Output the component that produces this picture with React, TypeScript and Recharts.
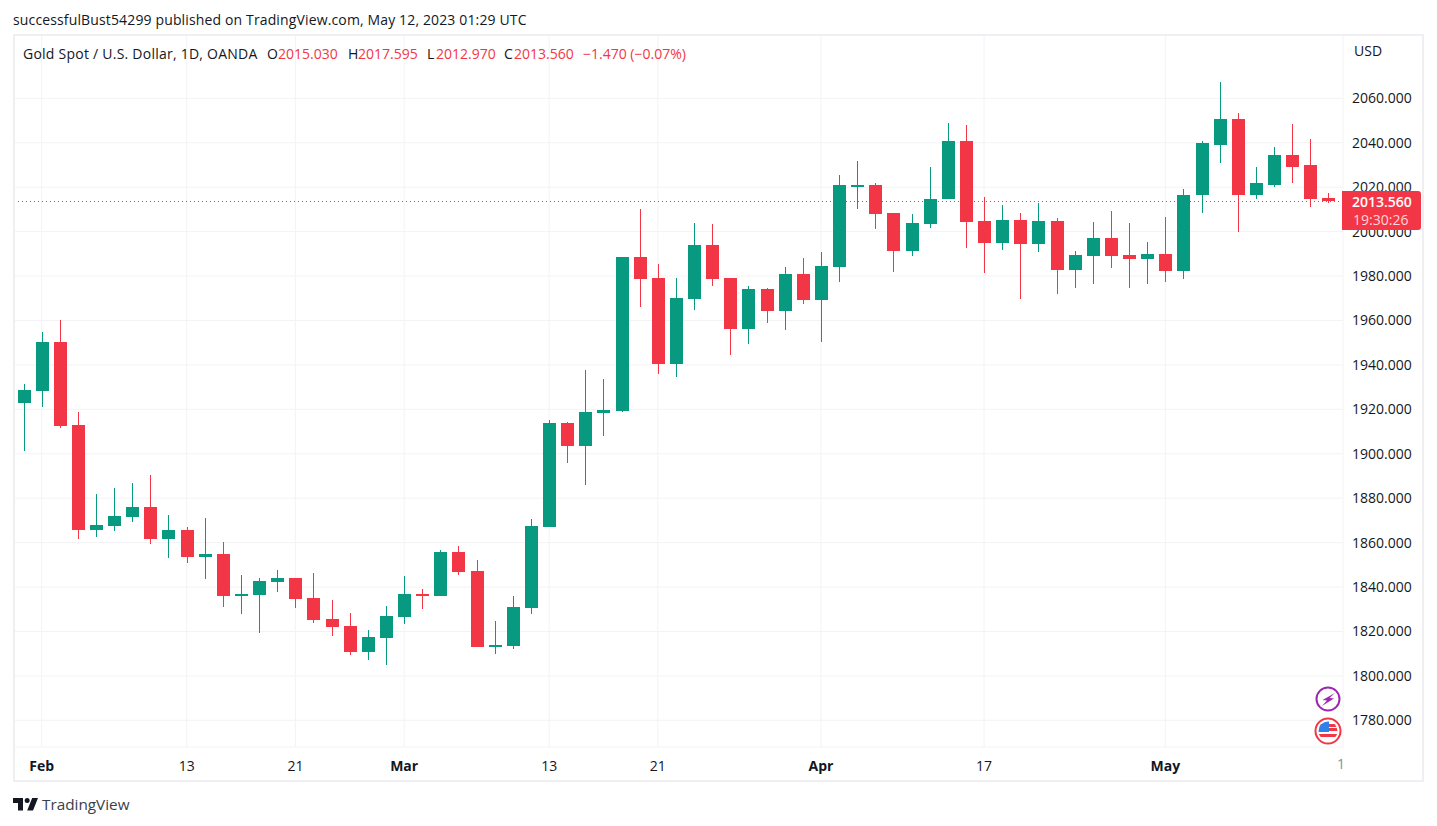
import React from "react";
import { ComposedChart, Bar, XAxis, YAxis, CartesianGrid, ReferenceLine } from "recharts";

const dates = [
  "01-31","02-01","02-02","02-03","02-06","02-07","02-08","02-09","02-10","02-13","02-14","02-15","02-16","02-17","02-20","02-21",
  "02-22","02-23","02-24","02-27","02-28","03-01","03-02","03-03","03-06","03-07","03-08","03-09","03-10","03-13","03-14","03-15",
  "03-16","03-17","03-20","03-21","03-22","03-23","03-24","03-27","03-28","03-29","03-30","03-31","04-03","04-04","04-05","04-06",
  "04-10","04-11","04-12","04-13","04-14","04-17","04-18","04-19","04-20","04-21","04-24","04-25","04-26","04-27","04-28","05-01",
  "05-02","05-03","05-04","05-05","05-08","05-09","05-10","05-11","05-12",
];
const opens = [
  1922.8,1928.2,1950.2,1912.9,1865.6,1867.4,1871.5,1876,1861.6,1865.6,1853.5,1854.8,1835.9,1836.4,1842.2,1844,1835,1825.6,1822.4,
  1810.8,1817.1,1826.5,1836.9,1836,1855.8,1847.2,1813,1813.5,1830.6,1867,1913.8,1903.5,1918.4,1919.3,1988.4,1978.9,1940.2,1969.5,
  1993.8,1978.9,1956,1974,1964.1,1980.7,1969,1983.9,2020.3,2020.8,2008.2,1991.1,2003.2,2014.5,2040.6,2004.6,1994.7,2005,1994.2,
  2004.6,1982.5,1988.8,1996.9,1989.3,1987.5,1989.7,1982.1,2016.3,2039.2,2050.5,2016.3,2021.2,2034.7,2029.8,2015.03,
];
const closes = [
  1928.6,1950.2,1912.4,1865.6,1867.9,1871.9,1876,1861.6,1865.6,1853.5,1854.8,1835.9,1836.8,1842.7,1844,1834.5,1825.1,1822,1810.7,
  1817.5,1827,1836.8,1836,1855.8,1846.8,1813,1813.9,1831,1867.5,1913.8,1903.5,1918.8,1919.7,1988.4,1978.5,1940.2,1969.9,1993.8,
  1978.5,1956,1974,1964.1,1980.7,1969,1984.3,2020.8,2020.8,2007.7,1991.1,2003.7,2014.9,2040.6,2004.1,1994.7,2005,1994.2,2004.6,
  1982.5,1989.3,1996.9,1988.8,1987.5,1989.7,1982.1,2016.7,2039.7,2050.5,2016.3,2021.7,2034.7,2029.3,2014.5,2013.56,
];
const highs = [
  1931.3,1954.7,1960.1,1918.7,1881.8,1884.5,1886.8,1890.4,1872.4,1867,1871,1860.2,1845.4,1844,1847.6,1844,1846.3,1834.1,1828.2,
  1820.7,1831.5,1844.9,1839.1,1856.7,1858.5,1852.2,1824.7,1836,1870.6,1915.2,1914.3,1937.7,1933.6,1988.6,2010,1985.2,1978.9,2003.7,
  2003.2,1978.9,1975.3,1974.4,1984.2,1987.9,1990.6,2025.3,2032,2021.7,2008.2,2007.7,2028.9,2048.7,2047.8,2015.4,2011.8,2008.2,2012.7,
  2005.9,1991.1,2004.1,2009.5,2003.7,1995.1,2006.4,2019.4,2040.6,2067.2,2053.2,2029.3,2037.9,2048.3,2041.5,2017.595,
];
const lows = [
  1901.2,1921,1911.5,1861.6,1862.5,1865.2,1869.2,1859.3,1853,1850.8,1843.6,1830.9,1827.8,1819.2,1837.7,1830.5,1823.7,1817.9,1809.3,
  1807.2,1804.9,1823.4,1830.1,1836,1845.4,1813,1809.9,1812.1,1827.9,1867,1895.8,1885.9,1908,1918.8,1965.9,1935.7,1934.4,1964.5,
  1975.3,1944.3,1949.2,1958.7,1955.5,1967.2,1950.1,1977.1,2010,2001,1981.6,1988.8,2001.4,2014.5,1992.4,1981.2,1991.5,1969.5,1990.6,
  1971.7,1974.4,1976.2,1983.4,1974.4,1976.2,1977.1,1978.5,2008.2,2030.7,1999.6,2014.5,2019.9,2021.7,2011.3,2012.97,
];
const priceTicks = [1780,1800,1820,1840,1860,1880,1900,1920,1940,1960,1980,2000,2020,2040,2060];
const timeTicks = ["02-01","02-13","02-21","03-01","03-13","03-21","04-03","04-17","05-01"];
const timeLabels = ["Feb","13","21","Mar","13","21","Apr","17","May"];
const lastPrice = 2013.56;

const GREEN = "#089981";
const RED = "#f23645";
const FONT = "'Open Sans', 'Liberation Sans', sans-serif";

const rows = dates.map((date, i) => ({ date, open: opens[i], close: closes[i], high: highs[i], low: lows[i] }));

function Candle(props: any) {
  const { x, y, width, height, payload } = props;
  const { open, close, high, low } = payload;
  const perUnit = height / (high - low);
  const color = close >= open ? GREEN : RED;
  const top = Math.round(y + (high - Math.max(open, close)) * perUnit);
  const bottom = Math.round(y + (high - Math.min(open, close)) * perUnit);
  const cx = Math.floor(x + width / 2);
  return (
    <g shapeRendering="crispEdges">
      <rect x={cx} y={y} width={1} height={height} fill={color} />
      <rect x={cx - 6} y={top} width={13} height={Math.max(1, bottom - top)} fill={color} />
    </g>
  );
}

function TimeTick(props: any) {
  const { x, y, payload } = props;
  const i = timeTicks.indexOf(payload.value);
  const label = timeLabels[i];
  const month = isNaN(Number(label));
  return (
    <text x={x} y={y + 1} textAnchor="middle" dominantBaseline="central" fontFamily={FONT} fontSize={14}
      fontWeight={month ? 700 : 400} fill="#131722">{label}</text>
  );
}

const abs = (left: number, top: number, extra: React.CSSProperties = {}): React.CSSProperties => ({
  position: "absolute", left, top, whiteSpace: "nowrap", fontFamily: FONT, fontSize: 14, lineHeight: "18px", color: "#131722", ...extra,
});

export default function App() {
  return (
    <div style={{ position: "absolute", left: 0, top: 0, width: 1437, height: 826, background: "#fff", overflow: "hidden" }}>
      <ComposedChart width={1437} height={826} data={rows} barSize={13}
        margin={{ top: 35, right: 14, bottom: 45, left: 14 }} style={{ position: "absolute", left: 0, top: 0 }}>
        <CartesianGrid stroke="#f3f3f6" strokeWidth={1} />
        <XAxis dataKey="date" ticks={timeTicks} interval={0} height={34} tickLine={false} axisLine={false}
          padding={{ left: 0.5, right: 5.5 }} tick={<TimeTick />} tickMargin={11} />
        <YAxis orientation="right" width={80} domain={[1768, 2088.5]} ticks={priceTicks} tickLine={false} axisLine={false}
          tickMargin={3} tickFormatter={(v: number) => v.toFixed(3)} allowDataOverflow
          tick={{ fontFamily: FONT, fontSize: 14, fill: "#131722" }} />
        <ReferenceLine y={lastPrice} stroke={RED} strokeDasharray="1 3" strokeWidth={1} />
        <Bar dataKey={(d: any) => [d.low, d.high]} isAnimationActive={false} shape={<Candle />} />
      </ComposedChart>

      <div style={{ position: "absolute", left: 13, top: 34, width: 1411, height: 748, boxSizing: "border-box", border: "2px solid #eeeef3", pointerEvents: "none" }} />

      <div style={abs(13, 11, { letterSpacing: 0.14 })}>successfulBust54299 published on TradingView.com, May 12, 2023 01:29 UTC</div>
      <div style={abs(23, 45, { letterSpacing: 0.24 })}>Gold Spot / U.S. Dollar, 1D, OANDA</div>
      <div style={abs(267, 45)}>O</div>
      <div style={abs(278, 45, { color: RED })}>2015.030</div>
      <div style={abs(348, 45)}>H</div>
      <div style={abs(358, 45, { color: RED })}>2017.595</div>
      <div style={abs(427, 45)}>L</div>
      <div style={abs(436, 45, { color: RED })}>2012.970</div>
      <div style={abs(504, 45)}>C</div>
      <div style={abs(514, 45, { color: RED })}>2013.560</div>
      <div style={abs(583, 45, { color: RED })}>−1.470 (−0.07%)</div>
      <div style={abs(1354, 42)}>USD</div>

      <div style={{ position: "absolute", left: 1342, top: 191, width: 79, height: 39, background: RED, borderRadius: "0 3px 3px 0" }} />
      <div style={abs(1352, 193, { color: "#fff", fontWeight: 600 })}>2013.560</div>
      <div style={abs(1353, 211, { color: "#ffd6da" })}>19:30:26</div>
      <div style={abs(1337, 755, { color: "#8a8e99", width: 5.5, overflow: "hidden" })}>1</div>

      <svg style={{ position: "absolute", left: 1314, top: 685 }} width={28} height={60} viewBox="0 0 28 60">
        <circle cx={14} cy={14} r={11.5} fill="#fff" stroke="#9c27b0" strokeWidth={2} />
        <path d="M21 8 L8.5 15 L13 15.5 L8 21 L20 13.5 L15.5 13 Z" fill="#9c27b0" />
        <circle cx={14} cy={46} r={12.5} fill="#fff" stroke={RED} strokeWidth={2} />
        <clipPath id="flagClip"><circle cx={14} cy={46} r={9.5} /></clipPath>
        <g clipPath="url(#flagClip)">
          <rect x={4} y={36} width={20} height={20} fill="#fff" />
          <rect x={4} y={39} width={20} height={3} fill={RED} />
          <rect x={14} y={43} width={10} height={3} fill={RED} />
          <rect x={4} y={49} width={20} height={3} fill={RED} />
          <rect x={4} y={36} width={11} height={11} fill="#2f80e8" />
        </g>
      </svg>

      <svg style={{ position: "absolute", left: 13, top: 797.5 }} width={25} height={13.5} viewBox="2 2 30 16">
        <path fill="#131722" d="M14 2H2v6h6v9h6V2Zm12 15h-7l6-15h7l-6 15Zm-7-9a3 3 0 1 0 0-6 3 3 0 0 0 0 6Z" />
      </svg>
      <div style={abs(42, 795, { fontSize: 15.3, color: "#3a3e4a" })}>TradingView</div>
    </div>
  );
}
